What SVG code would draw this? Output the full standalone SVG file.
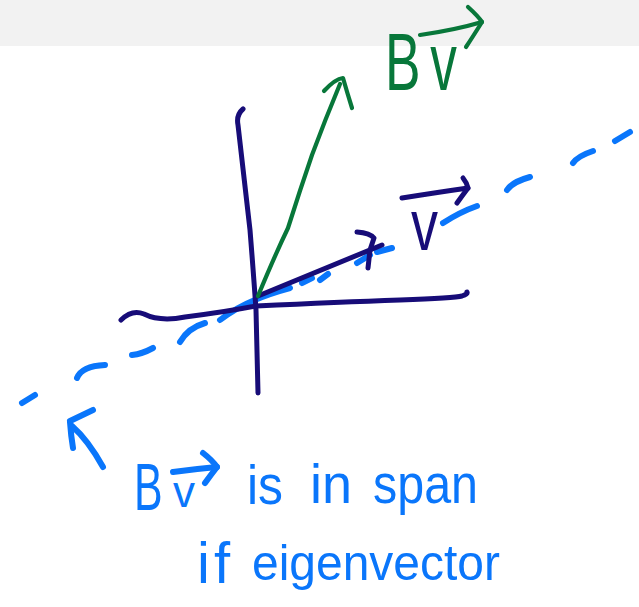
<svg xmlns="http://www.w3.org/2000/svg" width="639" height="607" viewBox="0 0 639 607">
<style>
.s{fill:none;stroke-linecap:round;stroke-linejoin:round}
.navy{stroke:#170c78;stroke-width:5}
.green{stroke:#08773a;stroke-width:4.2}
.blue{stroke:#0a76fb;stroke-width:6}
.t{font-family:"Liberation Sans","Noto Sans",sans-serif}
.tb{fill:#0a76fb}
.tg{fill:#08773a}
.tn{fill:#170c78}
</style>
<rect x="0" y="0" width="639" height="46" fill="#f2f2f2"/>
<rect x="0" y="46" width="639" height="561" fill="#ffffff"/>
<g id="span-line" class="s blue">
<path d="M22,403 L35,395"/>
<path d="M77,378 Q82,366 105,365"/>
<path d="M132,355 Q142,354 153,348"/>
<path d="M180,342 Q188,328 205,323"/>
<path d="M220,320 Q245,300 290,288"/>
<path d="M302,283 L312,278"/>
<path d="M320,280 L328,274"/>
<path d="M357,263 L370,255"/>
<path d="M377,252 L392,248"/>
<path d="M443,223 Q460,212 477,206"/>
<path d="M507,190 Q512,182 530,177"/>
<path d="M573,163 Q578,156 593,151"/>
<path d="M615,141 L630,132"/>
</g>
<g id="axes" class="s navy">
<path d="M243,109 Q236,115 238,125 L250,230 Q254,280 256,310 L258,393"/>
<path d="M121,320 Q132,309 144,314 Q160,322 185,317 Q225,312 256,306 Q340,302 400,300 Q455,298 462,296 Q468,294 467,292"/>
</g>
<g id="connectors">
<g id="vector-v" class="s navy">
<path d="M258,296 L382,245"/>
<path d="M357,232 Q370,233 374,238 Q372,244 370,250 L368,268"/>
</g>
<g id="vector-Bv" class="s green">
<path d="M258,296 Q275,255 288,228 Q300,190 312,155 Q325,120 340,84"/>
<path d="M324,91 Q335,79 343,78 Q347,92 352,108"/>
</g>
</g>
<g id="label-Bv">
<text class="t tg" transform="translate(385,90) scale(0.65,1)" x="0" y="0" font-size="82">B<tspan dx="15">v</tspan></text>
<g class="s green">
<path d="M420,35 Q455,30 482,22"/>
<path d="M468,7 Q478,16 482,22 Q472,38 466,47"/>
</g>
</g>
<g id="label-v">
<text class="t tn" transform="translate(411,250) scale(0.75,1)" x="0" y="0" font-size="72">v</text>
<g class="s navy">
<path d="M402,198 Q440,192 468,188"/>
<path d="M463,178 Q467,183 468,188 Q462,196 457,203"/>
</g>
</g>
<g id="note">
<g class="s blue">
<path d="M70,422 Q71,436 73,448"/>
<path d="M72,426 Q88,440 103,467"/>
<path d="M70,421 L93,410"/>
</g>
<text class="t tb" transform="translate(134,510) scale(0.65,1)" x="0" y="0" font-size="66">B</text>
<text class="t tb" x="173" y="507" font-size="44">v</text>
<g class="s blue">
<path d="M173,472 Q195,469 217,467"/>
<path d="M203,453 Q212,460 217,467 Q210,476 205,483"/>
</g>
<text class="t tb" x="247" y="504" font-size="56" textLength="36" lengthAdjust="spacingAndGlyphs">is</text>
<text class="t tb" x="310" y="503" font-size="56" textLength="42" lengthAdjust="spacingAndGlyphs">in</text>
<text class="t tb" x="373" y="503" font-size="56" textLength="105" lengthAdjust="spacingAndGlyphs">span</text>
<text class="t tb" x="197" y="583" font-size="58" letter-spacing="4">if</text>
<text class="t tb" x="252" y="580" font-size="50" textLength="248" lengthAdjust="spacingAndGlyphs">eigenvector</text>
</g>
</svg>
